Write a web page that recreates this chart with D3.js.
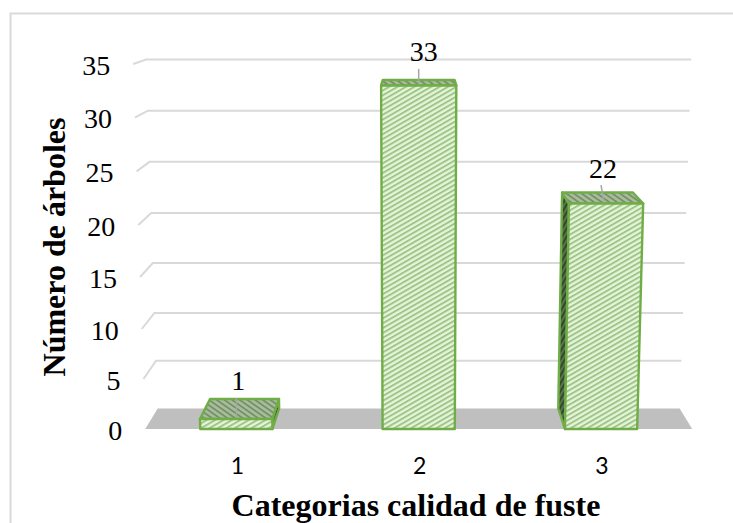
<!DOCTYPE html>
<html><head><meta charset="utf-8">
<script src="https://cdn.jsdelivr.net/npm/d3@7/dist/d3.min.js"></script>
<style>html,body{margin:0;padding:0;background:#fff}svg{display:block}</style>
</head><body><div id="c"></div>
<script>
const categories = ["1","2","3"];
const values = [1,33,22];
const yTicks = [0,5,10,15,20,25,30,35];
const yTitle = "Número de árboles";
const xTitle = "Categorias calidad de fuste";

const W=733,H=523;
const svg=d3.select("#c").append("svg").attr("width",W).attr("height",H);
const defs=svg.append("defs");
function hatch(id,bg,fg,w,size,angle){
  const p=defs.append("pattern").attr("id",id).attr("patternUnits","userSpaceOnUse")
    .attr("width",size).attr("height",size).attr("patternTransform",`rotate(${angle})`);
  p.append("rect").attr("width",size).attr("height",size).attr("fill",bg);
  p.append("rect").attr("width",size).attr("height",w).attr("fill",fg);
}
hatch("front","#e4f5d9","#9fc488",1.9,4.2,-30);
hatch("top","#a8bd9a","#75906a",1.8,4.4,35);
hatch("side","#55744a","#34482c",2,4,-60);

const yFront=d3.scaleLinear().domain([0,10,20,35]).range([429,329,225,64]);
const yBack=d3.scaleLinear().domain([0,10,20,35]).range([408.5,313,213,59.5]);
const cx=418.7;
const halfW=d3.scaleLinear().domain([0,1]).range([273.5,261]);
const grow=d3.scaleLinear().domain([0,35]).range([1,1.044]);
const band=d3.scaleBand().domain(categories).range([-1,1]).paddingInner(0.604).paddingOuter(0.302);
function P(u,v,d){
  return [cx+u*halfW(d)*grow(v), yFront(v)+(yBack(v)-yFront(v))*d];
}
const line=d3.line();
const poly=pts=>line(pts)+"Z";

svg.append("path").attr("d","M10.5,523V13.5H733").attr("fill","none").attr("stroke","#d9d9d9").attr("stroke-width",2);
svg.append("path").attr("d",poly([P(-1,0,0),P(-1,0,1),P(1,0,1),P(1,0,0)])).attr("fill","#bfbfbf");
svg.selectAll("path.grid").data(yTicks.filter(t=>t>0)).join("path").attr("class","grid")
  .attr("d",t=>line([P(-1,t,0),P(-1,t,1),P(1,t,1)]))
  .attr("fill","none").attr("stroke","#d9d9d9").attr("stroke-width",2);

svg.selectAll("text.yt").data(yTicks).join("text").attr("class","yt")
  .attr("x",t=>P(-1,t,0)[0]-23).attr("y",t=>yFront(t)+1)
  .attr("text-anchor","end").attr("dominant-baseline","central")
  .attr("font-family","Liberation Serif").attr("font-size",28).attr("fill","#000").text(t=>t);

const edge="#70ad47";
const bars=svg.selectAll("g.bar").data(categories.map((c,i)=>({c,v:values[i]}))).join("g").attr("class","bar");
bars.each(function(b){
  const g=d3.select(this);
  const u0=band(b.c), u1=u0+band.bandwidth();
  const face=(pts,fill)=>g.append("path").attr("d",poly(pts)).attr("fill",`url(#${fill})`)
    .attr("stroke",edge).attr("stroke-width",2.4).attr("stroke-linejoin","round");
  if(u0>0.01) face([P(u0,0,0),P(u0,b.v,0),P(u0,b.v,1),P(u0,0,1)],"side");
  if(u1<-0.01) face([P(u1,0,0),P(u1,b.v,0),P(u1,b.v,1),P(u1,0,1)],"side");
  face([P(u0,b.v,0),P(u0,b.v,1),P(u1,b.v,1),P(u1,b.v,0)],"top");
  face([P(u0,0,0),P(u0,b.v,0),P(u1,b.v,0),P(u1,0,0)],"front");
  const um=(u0+u1)/2, top=P(um,b.v,0.3)[1];
  const xm=P(um,0,0)[0];
  g.append("line").attr("x1",xm).attr("x2",xm+(b.c==="3"?3:0)).attr("y1",top-15).attr("y2",P(um,b.v,0)[1]-1)
    .attr("stroke","#a6a6a6").attr("stroke-width",1.5);
  g.append("text").attr("x",xm+(b.c==="2"?5:2)).attr("y",top-32).attr("text-anchor","middle")
    .attr("dominant-baseline","central").attr("font-family","Liberation Serif").attr("font-size",28)
    .attr("fill","#000").text(b.v);
  g.append("text").attr("x",xm+1).attr("y",465).attr("text-anchor","middle")
    .attr("dominant-baseline","central").attr("font-family","Lato").attr("font-size",23)
    .attr("fill","#000").text(b.c);
});

svg.append("text").attr("x",416).attr("y",516).attr("text-anchor","middle")
  .attr("font-family","Liberation Serif").attr("font-weight","bold").attr("font-size",32).attr("fill","#000").text(xTitle);
svg.append("text").attr("transform","translate(65,247) rotate(-90)").attr("text-anchor","middle")
  .attr("font-family","Liberation Serif").attr("font-weight","bold").attr("font-size",32).attr("fill","#000").text(yTitle);
</script></body></html>
